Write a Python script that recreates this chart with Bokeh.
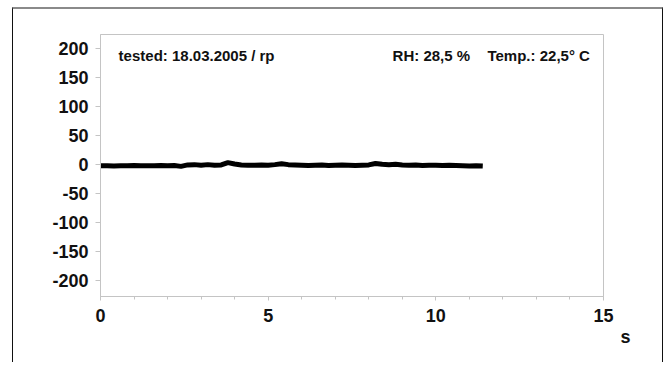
from bokeh.plotting import figure
from bokeh.models import Label, SingleIntervalTicker, FixedTicker, Range1d, Title
from bokeh.embed import file_html
from bokeh.resources import INLINE

# time in seconds
time_s = [0.0, 0.2, 0.4, 0.6, 0.8, 1.0, 1.2, 1.4, 1.6, 1.8, 2.0, 2.2,
          2.4, 2.6, 2.8, 3.0, 3.2, 3.4, 3.6, 3.8, 4.0, 4.2, 4.4, 4.6,
          4.8, 5.0, 5.2, 5.4, 5.6, 5.8, 6.0, 6.2, 6.4, 6.6, 6.8, 7.0,
          7.2, 7.4, 7.6, 7.8, 8.0, 8.2, 8.4, 8.6, 8.8, 9.0, 9.2, 9.4,
          9.6, 9.8, 10.0, 10.2, 10.4, 10.6, 10.8, 11.0, 11.2, 11.4]
# measured signal
signal = [-2.0, -2.0, -2.5, -2.0, -2.0, -1.5, -2.0, -2.0, -2.0, -1.5, -2.0, -1.5,
          -3.0, -0.5, 0.0, -1.0, 0.0, -1.0, -0.5, 3.5, 1.0, -0.5, -1.0, -1.0,
          -0.5, -1.0, 0.0, 1.5, 0.0, -0.5, -1.0, -1.5, -1.0, -0.5, -1.5, -1.0,
          -0.5, -1.0, -1.5, -1.0, -0.5, 2.0, 0.5, 0.0, 0.5, -0.5, -1.0, -0.5,
          -1.5, -1.0, -1.0, -1.5, -1.0, -1.5, -2.0, -2.5, -2.0, -2.5]

y_ticks = [-200, -150, -100, -50, 0, 50, 100, 150, 200]
x_unit = "s"
note_left = "tested: 18.03.2005 / rp"
note_rh = "RH: 28,5 %"
note_temp = "Temp.: 22,5° C"

FONT = "Liberation Sans"
AX = "#c4c4c4"

p = figure(width=651, height=355, output_backend="svg", toolbar_location=None,
           x_range=Range1d(0, 15), y_range=Range1d(-227, 224),
           min_border_left=87, min_border_right=61, min_border_top=25,
           min_border_bottom=68)
p.styles = {"margin-left": "12px", "margin-top": "7px",
            "border-left": "1px solid #111", "border-right": "1px solid #111",
            "border-top": "2px solid #8a8a8a"}

p.line(time_s, signal, line_color="black", line_width=5)

p.xgrid.visible = False
p.ygrid.visible = False
p.outline_line_color = AX
p.outline_line_width = 1

p.xaxis.ticker = SingleIntervalTicker(interval=5, num_minor_ticks=5)
p.yaxis.ticker = FixedTicker(ticks=y_ticks)
p.yaxis.major_label_overrides = {t: str(t) for t in y_ticks}
for ax in (p.xaxis[0], p.yaxis[0]):
    ax.axis_line_color = AX
    ax.major_tick_line_color = AX
    ax.minor_tick_line_color = AX
    ax.major_tick_in = 0
    ax.minor_tick_in = 0
    ax.major_label_text_font = FONT
    ax.major_label_text_font_style = "bold"
    ax.major_label_text_font_size = "18px"
    ax.major_label_text_color = "#111111"
p.xaxis.major_tick_out = 4
p.xaxis.minor_tick_out = 3
p.xaxis.major_label_standoff = 8
p.yaxis.major_tick_out = 5
p.yaxis.minor_tick_out = 0
p.yaxis.major_label_standoff = 7

for txt, x in ((note_left, 0.54), (note_rh, 8.71), (note_temp, 11.54)):
    p.add_layout(Label(x=x, y=188, text=txt, text_font=FONT, text_font_style="bold",
                       text_font_size="15px", text_color="#111111",
                       text_baseline="middle", text_align="left"))

p.add_layout(Title(text=x_unit, align="right", offset=-27, standoff=0,
                   text_font=FONT, text_font_style="bold", text_font_size="18px",
                   text_color="#111111"), "below")

open("out.html", "w").write(file_html(p, INLINE))
